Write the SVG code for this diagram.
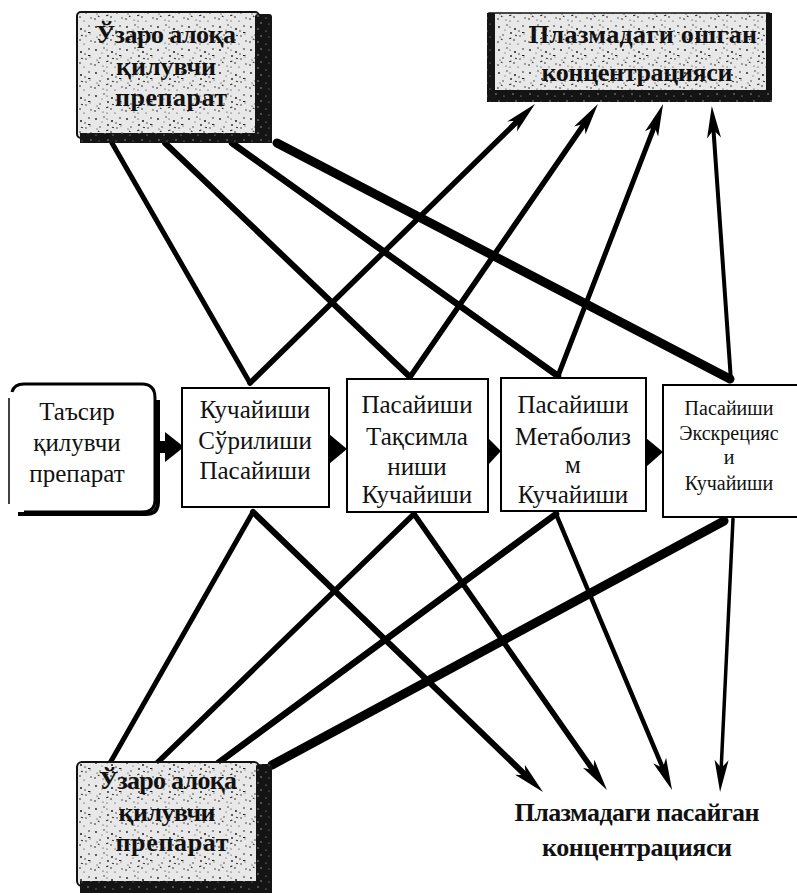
<svg xmlns="http://www.w3.org/2000/svg" width="797" height="895" viewBox="0 0 797 895">
  <defs>
    <!-- light stippled paper fill -->
    <pattern id="stipple" width="31" height="23" patternUnits="userSpaceOnUse">
      <rect width="31" height="23" fill="#e8e8e8"/>
      <g fill="#1a1a1a">
        <circle cx="3" cy="4" r="0.9"/><circle cx="11" cy="2" r="0.7"/><circle cx="19" cy="6" r="1"/>
        <circle cx="27" cy="3" r="0.8"/><circle cx="7" cy="12" r="0.7"/><circle cx="15" cy="10" r="0.9"/>
        <circle cx="24" cy="13" r="0.7"/><circle cx="2" cy="19" r="0.8"/><circle cx="10" cy="20" r="0.6"/>
        <circle cx="18" cy="17" r="0.8"/><circle cx="29" cy="18" r="0.7"/><circle cx="22" cy="21" r="0.6"/>
        <circle cx="14" cy="4" r="0.6"/><circle cx="23" cy="8" r="0.7"/><circle cx="9" cy="7" r="0.5"/>
        <circle cx="4" cy="14" r="0.6"/><circle cx="28" cy="11" r="0.5"/><circle cx="14" cy="21" r="0.6"/>
        <rect x="13" y="15" width="2.2" height="1" transform="rotate(-20 14 15)"/>
        <rect x="26" y="9" width="2.4" height="1"/>
        <rect x="5" y="16" width="1.8" height="1" transform="rotate(30 6 16)"/>
        <rect x="19" y="12" width="2" height="0.9" transform="rotate(15 20 12)"/>
      </g>
    </pattern>
    <!-- dark shadow band with light specks -->
    <pattern id="darkband" width="17" height="13" patternUnits="userSpaceOnUse">
      <rect width="17" height="13" fill="#141414"/>
      <g fill="#bdbdbd">
        <circle cx="3" cy="3" r="0.7"/><circle cx="11" cy="5" r="0.6"/><circle cx="6" cy="10" r="0.7"/>
        <circle cx="14" cy="11" r="0.5"/>
      </g>
    </pattern>
    <marker id="barb" markerUnits="userSpaceOnUse" markerWidth="36" markerHeight="18" viewBox="0 -9 36 18" refX="12" refY="0" orient="auto">
      <path d="M32,0 L0,-7 L8,0 L0,7 Z" fill="#000"/>
    </marker>
    <style>
      .bold { font-family: "Liberation Serif", "Times New Roman", serif; font-weight: bold; font-size: 26px; fill: #111; text-anchor: middle; }
      .reg { font-family: "Liberation Serif", "Times New Roman", serif; font-size: 25px; fill: #111; text-anchor: middle; }
      .small { font-size: 20px; }
      .box { fill: #fff; stroke: #000; stroke-width: 2; }
      .link { fill: none; stroke: #000; stroke-linecap: round; }
      .up { marker-end: url(#barb); }
    </style>
  </defs>

  <rect width="797" height="895" fill="#fff"/>

  <!-- connectors -->
  <g id="connectors">
    <!-- from the upper interacting drug to the stage boxes -->
    <line class="link" x1="112" y1="143" x2="250" y2="383" stroke-width="5"/>
    <line class="link" x1="165" y1="143" x2="410" y2="377" stroke-width="6"/>
    <line class="link" x1="232" y1="143" x2="558" y2="376" stroke-width="6.5"/>
    <line class="link" x1="277" y1="143" x2="730" y2="379" stroke-width="9"/>
    <!-- up to the increased plasma concentration -->
    <line class="link up" x1="250" y1="383" x2="520.7" y2="118" stroke-width="5.5"/>
    <line class="link up" x1="410" y1="377" x2="586.6" y2="120.5" stroke-width="5.5"/>
    <line class="link up" x1="558" y1="376" x2="655.9" y2="122.7" stroke-width="5"/>
    <line class="link up" x1="731" y1="381" x2="713.2" y2="126" stroke-width="4"/>
    <!-- from the lower interacting drug to the stage boxes -->
    <line class="link" x1="110" y1="763" x2="253" y2="512" stroke-width="5"/>
    <line class="link" x1="157" y1="763" x2="414" y2="514" stroke-width="5.5"/>
    <line class="link" x1="218" y1="763" x2="556" y2="514" stroke-width="6.5"/>
    <line class="link" x1="272" y1="765" x2="724" y2="521" stroke-width="9"/>
    <!-- down to the decreased plasma concentration -->
    <line class="link up" x1="253" y1="512" x2="528.6" y2="778.1" stroke-width="6"/>
    <line class="link up" x1="414" y1="514" x2="595.5" y2="773.6" stroke-width="5.5"/>
    <line class="link up" x1="556" y1="514" x2="664.3" y2="771.6" stroke-width="4.5"/>
    <line class="link up" x1="733" y1="519" x2="721" y2="772" stroke-width="3.5"/>
    <!-- bold flow arrows between stage boxes -->
    <g fill="#000">
      <rect x="155" y="441" width="13" height="12"/>
      <path d="M165,432 L184,447 L165,462 Z"/>
      <path d="M329,434 L347,449 L329,464 Z"/>
      <path d="M487,437 L501,451 L487,466 Z"/>
      <path d="M646,438 L663,452 L646,467 Z"/>
    </g>
  </g>

  <!-- upper interacting drug -->
  <g id="interact-top">
    <rect x="77" y="12" width="182" height="126" rx="4" fill="url(#stipple)" stroke="#111" stroke-width="2"/>
    <rect x="255" y="14" width="17" height="129" rx="3" fill="url(#darkband)"/>
    <rect x="80" y="133" width="192" height="10" fill="url(#darkband)"/>
    <text class="bold" x="166" y="43" textLength="140">Ўзаро алоқа</text>
    <text class="bold" x="166" y="75" textLength="100">қилувчи</text>
    <text class="bold" x="171" y="106" textLength="112">препарат</text>
  </g>

  <!-- increased plasma concentration -->
  <g id="plasma-up">
    <rect x="489" y="13" width="280" height="84" fill="url(#stipple)" stroke="#111" stroke-width="1.5"/>
    <rect x="487" y="13" width="8" height="87" fill="url(#darkband)"/>
    <rect x="766" y="13" width="6" height="89" fill="#111"/>
    <rect x="487" y="90" width="285" height="12" fill="url(#darkband)"/>
    <text class="bold" x="643" y="43" textLength="228">Плазмадаги ошган</text>
    <text class="bold" x="637" y="81" textLength="191">концентрацияси</text>
  </g>

  <!-- acting drug -->
  <g id="drug">
    <path d="M12,392 Q14,384 24,384 L142,384 Q155,384 155,398 L155,500 Q155,512 142,512 L24,512" fill="#fff" stroke="#000" stroke-width="3"/>
    <path d="M9,398 L9,504" fill="none" stroke="#000" stroke-width="1.5"/>
    <path d="M18,514 L146,514 Q158,514 158,502 L158,400" fill="none" stroke="#000" stroke-width="4"/>
    <text class="reg" x="77" y="420">Таъсир</text>
    <text class="reg" x="77" y="451">қилувчи</text>
    <text class="reg" x="77" y="482">препарат</text>
  </g>

  <!-- absorption -->
  <g id="absorption">
    <rect class="box" x="182" y="388" width="147" height="119"/>
    <text class="reg" x="255" y="418">Кучайиши</text>
    <text class="reg" x="255" y="449">Сўрилиши</text>
    <text class="reg" x="255" y="479">Пасайиши</text>
  </g>

  <!-- distribution -->
  <g id="distribution">
    <rect class="box" x="347" y="379" width="141" height="133"/>
    <text class="reg" x="417" y="413">Пасайиши</text>
    <text class="reg" x="417" y="445">Тақсимла</text>
    <text class="reg" x="417" y="475">ниши</text>
    <text class="reg" x="417" y="503">Кучайиши</text>
  </g>

  <!-- metabolism -->
  <g id="metabolism">
    <rect class="box" x="501" y="378" width="145" height="133"/>
    <text class="reg" x="573" y="413">Пасайиши</text>
    <text class="reg" x="573" y="445">Метаболиз</text>
    <text class="reg" x="573" y="473">м</text>
    <text class="reg" x="573" y="503">Кучайиши</text>
  </g>

  <!-- excretion -->
  <g id="excretion">
    <rect class="box" x="663" y="385" width="136" height="132"/>
    <text class="reg small" x="729" y="415">Пасайиши</text>
    <text class="reg small" x="729" y="440">Экскрецияс</text>
    <text class="reg small" x="729" y="464">и</text>
    <text class="reg small" x="729" y="490">Кучайиши</text>
  </g>

  <!-- lower interacting drug -->
  <g id="interact-bottom">
    <rect x="77" y="762" width="182" height="124" rx="5" fill="url(#stipple)" stroke="#111" stroke-width="2"/>
    <rect x="256" y="764" width="16" height="129" rx="3" fill="url(#darkband)"/>
    <rect x="80" y="881" width="192" height="12" fill="url(#darkband)"/>
    <text class="bold" x="168" y="789" textLength="138">Ўзаро алоқа</text>
    <text class="bold" x="167" y="821" textLength="97">қилувчи</text>
    <text class="bold" x="172" y="851" textLength="113">препарат</text>
  </g>

  <!-- decreased plasma concentration -->
  <g id="plasma-down">
    <text class="bold" x="637" y="821" textLength="245">Плазмадаги пасайган</text>
    <text class="bold" x="637" y="856" textLength="190">концентрацияси</text>
  </g>
</svg>
